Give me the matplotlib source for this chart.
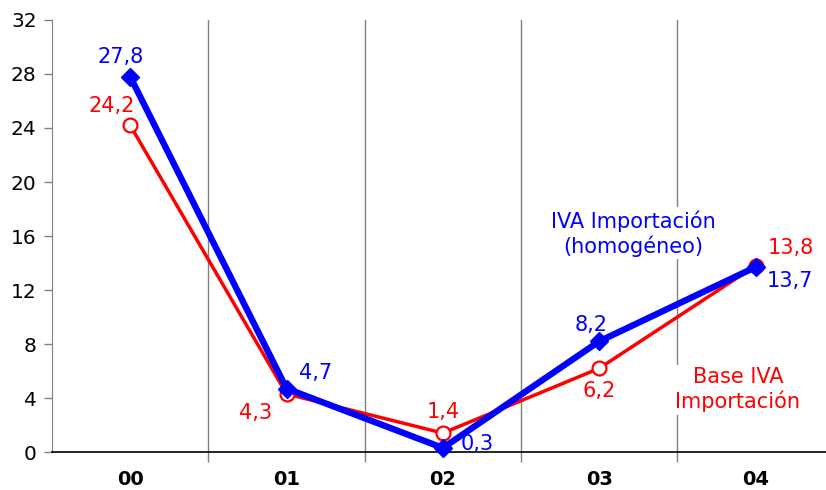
import matplotlib
matplotlib.use("Agg")
import matplotlib.pyplot as plt

categories = ["00", "01", "02", "03", "04"]
base_iva = [24.2, 4.3, 1.4, 6.2, 13.8]
iva_homog = [27.8, 4.7, 0.3, 8.2, 13.7]
base_labels = ["24,2", "4,3", "1,4", "6,2", "13,8"]
homog_labels = ["27,8", "4,7", "0,3", "8,2", "13,7"]
yticks = [0, 4, 8, 12, 16, 20, 24, 28, 32]

plt.rcParams['font.family'] = ['DejaVu Sans']
fig = plt.figure(figsize=(8.26, 4.9), dpi=100)
ax = fig.add_axes([52/826, 38/490, 1 - 52/826, 432/490])

x = list(range(len(categories)))
ax.set_xlim(-0.5, 4.45)
ax.set_ylim(0, 32)

for b in [0.5, 1.5, 2.5, 3.5]:
    ax.axvline(b, color="#808080", lw=1.0, zorder=1)

ax.plot(x, base_iva, color="#ff0000", lw=2.5, marker="o", ms=10,
        mfc="white", mec="#ff0000", mew=1.6, zorder=3, clip_on=False)
ax.plot(x, iva_homog, color="#0000ff", lw=4.6, marker="D", ms=9,
        mfc="#0000ff", mec="#0000ff", zorder=4, clip_on=False)

fs = 15
red = "#ff0000"
blue = "#0000ff"
base_off = [(-13, 14), (-22, -14), (0, 15), (0, -16), (25, 13)]
homog_off = [(-7, 14), (21, 11.5), (25, 3), (-6, 11.5), (25, -10)]
for i in x:
    dx, dy = base_off[i]
    ax.annotate(base_labels[i], (i, base_iva[i]), xytext=(dx, dy),
                textcoords="offset points", ha="center", va="center",
                color=red, fontsize=fs, zorder=6)
    dx, dy = homog_off[i]
    ax.annotate(homog_labels[i], (i, iva_homog[i]), xytext=(dx, dy),
                textcoords="offset points", ha="center", va="center",
                color=blue, fontsize=fs, zorder=6)

ax.text(3.22, 16.2, "IVA Importación\n(homogéneo)", color=blue, fontsize=fs,
        ha="center", va="center", linespacing=1.2, zorder=5,
        bbox=dict(facecolor="white", edgecolor="none", pad=2))
ax.text(3.886, 4.6, "Base IVA\nImportación", color=red, fontsize=fs,
        ha="center", va="center", linespacing=1.2, zorder=5,
        bbox=dict(facecolor="white", edgecolor="none", pad=2))

ax.set_yticks(yticks)
ax.set_yticklabels([str(v) for v in yticks], fontsize=14.5)
ax.set_xticks(x)
ax.set_xticklabels(categories, fontsize=14, fontweight="bold")
ax.tick_params(axis="x", length=0, pad=13)
ax.set_xticks([0.5, 1.5, 2.5, 3.5], minor=True)
ax.tick_params(axis="x", which="minor", length=7, color="#808080", width=1)
ax.tick_params(axis="y", length=6, color="#808080", width=1, pad=5)

for s in ["top", "right"]:
    ax.spines[s].set_visible(False)
ax.spines["left"].set_color("#808080")
ax.spines["bottom"].set_color("black")
ax.spines["bottom"].set_linewidth(1.2)

fig.savefig("out.png", dpi=100)
